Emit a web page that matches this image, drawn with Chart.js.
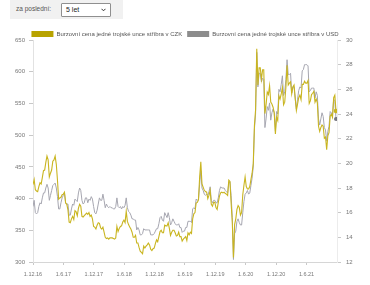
<!DOCTYPE html>
<html>
<head>
<meta charset="utf-8">
<script src="https://cdn.jsdelivr.net/npm/chart.js@4"></script>
<style>
  body { margin: 0; width: 370px; height: 285px; overflow: hidden; background: #fff;
         font-family: "Liberation Sans", Arial, sans-serif; }
  #wrap { position: absolute; left: 0; top: 0; width: 370px; height: 285px; }
  .bar { position: absolute; left: 10px; top: 0; width: 113px; height: 19px; background: #f1f1f1; z-index: 2; }
  .bar .lbl { position: absolute; left: 6px; top: 5px; font-size: 6.5px; color: #555; }
  .sel { position: absolute; left: 51px; top: 3px; width: 50px; height: 14px; box-sizing: border-box;
         border: 1px solid #8f8f8f; border-radius: 1px; background: #fff; }
  .sel .val { position: absolute; left: 4px; top: 2px; font-size: 7px; color: #222; }
  .sel svg { position: absolute; right: 4px; top: 4px; }
</style>
</head>
<body>
<div class="bar">
  <span class="lbl">za poslední:</span>
  <div class="sel"><span class="val">5 let</span>
    <svg width="5" height="4" viewBox="0 0 5 4"><polyline points="0.5,0.8 2.5,2.8 4.5,0.8" fill="none" stroke="#333" stroke-width="1"/></svg>
  </div>
</div>
<div id="wrap"><canvas id="chart"></canvas></div>
<script>
// weekly closes from 1.12.2016 (every 7 days)
const dayStep = 7;
const tickDays = [0, 182, 365, 547, 730, 912, 1095, 1278, 1461, 1643];
const tickLabels = ['1.12.16', '1.6.17', '1.12.17', '1.6.18', '1.12.18', '1.6.19', '1.12.19', '1.6.20', '1.12.20', '1.6.21'];

const seriesNames = ['Burzovní cena jedné trojské unce stříbra v CZK', 'Burzovní cena jedné trojské unce stříbra v USD'];

const czk = [
  422, 430, 414, 412, 411,
  419, 425, 423, 433,  444, 445, 457, 467,  461, 434, 440, 445, 459,  461, 467, 454, 429,
  399, 401, 402, 406,  407, 410, 393, 391, 382,  363, 362, 368, 372,  367, 381, 379, 373, 385,
  391, 388, 372, 371,  373, 375, 377, 375,  378, 372, 374, 368, 356,  355, 352, 358, 362,
  361, 354, 352, 355,  347, 339, 337, 338,  336, 338, 338, 338, 337,  336, 338, 356, 348,
  353, 356, 357, 363, 366,  362, 380, 364, 359,  355, 352, 347, 339,  339, 342, 330, 330, 323,
  317, 315, 313, 325,  322, 325, 327, 330,  327, 320, 318, 321, 322,  329, 335, 332, 340,
  348, 350, 346, 346, 358,  357, 357, 362, 353,  342, 347, 350, 350,  346, 341, 342, 347,
  340, 340, 333, 336, 338,  340, 334, 346, 343,  347, 345, 368, 376,  378, 393, 394, 398, 434,
  458, 423, 418, 413,  411, 410, 400, 405, 413,  391, 388, 394, 394,  386, 383, 394, 404,
  409, 410, 409, 410, 408,  407, 405, 429, 427,  393, 363, 307, 359,  368, 383, 389, 386, 374,
  378, 406, 421, 434,  419, 415, 415, 419,  430, 440, 455, 515, 540,  636, 579, 606, 606,
  588, 603, 603, 534,  548, 568, 564, 578, 552,  549, 544, 535, 502,  528, 523, 562, 557, 565,
  575, 548, 552, 575,  610, 579, 582, 584,  565, 576, 579, 559,  539, 549, 559, 563, 556,
  580, 580, 585, 582,  582, 586, 550, 554,  564, 566, 569, 552, 557,  551, 514, 506, 512,
  516, 514, 495, 497, 477,  499, 504, 530, 533,  528, 559, 563, 538
];

const usd = [
  16.5, 17.0, 16.0, 15.9, 16.0,
  16.5, 16.8, 16.7, 17.2,  17.6, 17.6, 18.0, 18.3,  18.0, 17.0, 17.4, 17.8, 18.2,  18.3, 18.4, 18.0, 17.3,
  16.3, 16.3, 16.8, 17.2,  17.4, 17.6, 16.8, 16.7, 16.7,  15.8, 15.8, 16.3, 16.7,  16.6, 17.1, 17.0, 16.9, 17.6,
  18.0, 17.8, 17.0, 16.7,  16.8, 17.2, 17.2, 16.8,  17.1, 17.0, 17.3, 17.1, 16.5,  16.0, 15.9, 16.2, 16.7,
  17.2, 17.0, 17.0, 17.5,  17.0, 16.4, 16.7, 16.5,  16.4, 16.5, 16.4, 16.4, 16.3,  16.3, 16.5, 17.2, 16.5,
  16.4, 16.5, 16.3, 16.5, 16.4,  16.6, 17.2, 16.4, 16.1,  16.0, 15.8, 15.5, 15.5,  15.4, 15.4, 14.6, 14.8, 14.6,
  14.2, 14.2, 14.3, 14.7,  14.6, 14.6, 14.6, 14.6,  14.6, 14.2, 14.2, 14.2, 14.3,  14.5, 14.7, 14.7, 15.1,
  15.6, 15.7, 15.4, 15.3, 16.0,  15.8, 15.6, 16.0, 15.6,  15.0, 15.2, 15.5, 15.3,  15.1, 15.0, 15.0, 15.1,
  14.8, 14.8, 14.4, 14.5, 14.5,  14.8, 14.8, 15.3, 15.3,  15.3, 15.2, 16.3, 16.4,  16.3, 17.1, 17.0, 17.1, 18.3,
  19.4, 18.0, 17.8, 17.5,  17.4, 17.5, 17.4, 17.7, 18.1,  17.0, 16.8, 17.0, 17.0,  16.8, 16.8, 17.2, 17.8,
  18.1, 18.0, 18.0, 18.0, 17.8,  17.7, 17.6, 18.4, 18.5,  17.4, 15.6, 12.2, 14.3,  14.5, 15.3, 15.5, 15.2, 15.0,
  15.0, 16.0, 16.9, 17.5,  17.6, 17.8, 17.5, 17.6,  18.2, 18.8, 19.7, 22.8, 24.0,  29.0, 26.2, 27.3, 27.3,
  26.6, 26.9, 26.8, 22.9,  23.6, 24.6, 24.3, 24.9, 23.5,  24.1, 24.4, 24.1, 22.6,  24.2, 24.0, 26.0, 25.8, 26.4,
  27.1, 25.5, 25.8, 26.8,  28.4, 27.2, 27.2, 27.3,  25.7, 26.2, 26.2, 25.2,  24.4, 25.2, 25.9, 26.2, 26.1,
  27.5, 27.6, 28.0, 28.0,  28.0, 27.9, 25.8, 25.9,  26.1, 26.1, 26.1, 25.3, 25.8,  25.5, 23.6, 23.1, 23.6,
  24.1, 23.8, 22.9, 22.7, 21.8,  22.6, 23.0, 24.2, 24.1,  23.9, 25.2, 25.0, 23.6
];

const lineColors = ['#c9b520', '#a6a6b0'];
const legendColors = ['#b8a300', '#8c8c8c'];

function toPoints(values) {
  return values.map((v, i) => ({ x: i * dayStep, y: v }));
}
function lastOnly(r) {
  return ctx => (ctx.dataIndex === ctx.dataset.data.length - 1 ? r : 0);
}

const legendFit = {
  id: 'legendFit',
  beforeInit(chart) {
    const fit = chart.legend.fit;
    chart.legend.fit = function () {
      fit.call(this);
      this.height -= 7;
    };
  }
};

Chart.defaults.font.family = '"Liberation Sans", Arial, sans-serif';
Chart.defaults.color = '#777';

new Chart(document.getElementById('chart'), {
  type: 'line',
  data: {
    datasets: [
      {
        label: seriesNames[0],
        data: toPoints(czk),
        yAxisID: 'yCzk',
        borderColor: lineColors[0],
        backgroundColor: lineColors[0],
        borderWidth: 1.1,
        pointRadius: lastOnly(2.3),
        pointBorderWidth: 0,
        tension: 0
      },
      {
        label: seriesNames[1],
        data: toPoints(usd),
        yAxisID: 'yUsd',
        borderColor: lineColors[1],
        backgroundColor: '#77777f',
        borderWidth: 1,
        pointRadius: lastOnly(2),
        pointBorderWidth: 0,
        tension: 0
      }
    ]
  },
  options: {
    responsive: true,
    maintainAspectRatio: false,
    animation: false,
    devicePixelRatio: 1,
    layout: { padding: { top: 26, left: 0, right: 0, bottom: 0 } },
    plugins: {
      tooltip: { enabled: false },
      legend: {
        labels: {
          boxWidth: 22,
          boxHeight: 6,
          padding: 5,
          color: '#555',
          font: { size: 6 },
          generateLabels: chart => Chart.defaults.plugins.legend.labels.generateLabels(chart)
            .map((l, i) => ({ ...l, fillStyle: legendColors[i], strokeStyle: legendColors[i], lineWidth: 0 }))
        }
      }
    },
    scales: {
      x: {
        type: 'linear',
        min: 0,
        max: 1826,
        afterBuildTicks: s => { s.ticks = tickDays.map(v => ({ value: v })); },
        afterFit: s => { s.height = 23; },
        ticks: {
          autoSkip: false,
          maxRotation: 0,
          padding: 6,
          font: { size: 5.5 },
          callback: v => tickLabels[tickDays.indexOf(v)]
        },
        grid: { drawOnChartArea: false, tickLength: 3, color: '#c8c8c8' },
        border: { color: '#d6d6d6' }
      },
      yCzk: {
        position: 'left',
        min: 300,
        max: 650,
        afterFit: s => { s.width = 33; },
        ticks: { stepSize: 50, padding: 4, font: { size: 6 } },
        grid: { drawOnChartArea: false, tickLength: 4, color: '#c8c8c8' },
        border: { color: '#e2e2e2' }
      },
      yUsd: {
        position: 'right',
        min: 12,
        max: 30,
        afterFit: s => { s.width = 33; },
        ticks: { stepSize: 2, padding: 5, font: { size: 6 } },
        grid: { drawOnChartArea: false, tickLength: 4, color: '#c8c8c8' },
        border: { color: '#ececec' }
      }
    }
  },
  plugins: [legendFit]
});
</script>
</body>
</html>
